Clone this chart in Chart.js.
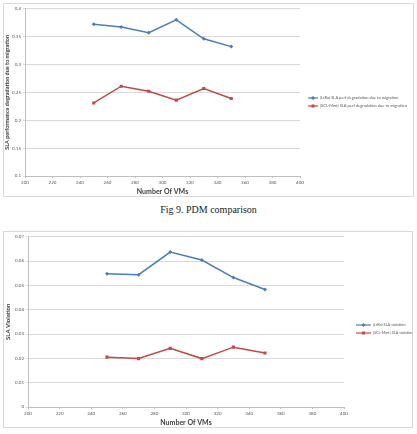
<!DOCTYPE html>
<html>
<head>
<meta charset="utf-8">
<script src="https://cdn.jsdelivr.net/npm/chart.js@4"></script>
<style>
  html, body { margin: 0; padding: 0; background: #fff; width: 417px; height: 434px; overflow: hidden; }
  .box { position: absolute; border: 1px solid #d9d9d9; background: #fff; }
  #box1 { left: 3px; top: 3px; width: 409px; height: 192px; }
  #box2 { left: 3px; top: 231px; width: 408px; height: 195px; }
  canvas { display: block; }
  #cap { position: absolute; left: 0; width: 417px; top: 204px; text-align: center;
         font-family: "Liberation Serif", "DejaVu Serif", serif; font-size: 10px; color: #222; }
</style>
</head>
<body>
<div class="box" id="box1"><canvas id="c1" width="409" height="192"></canvas></div>
<div id="cap">Fig 9. PDM comparison</div>
<div class="box" id="box2"><canvas id="c2" width="408" height="195"></canvas></div>
<script>
// ---- data ----
const vms = [250, 270, 290, 310, 330, 350];
const pdmLrRo = [0.372, 0.367, 0.357, 0.380, 0.346, 0.332];
const pdmScl = [0.231, 0.261, 0.252, 0.236, 0.257, 0.239];
const slaLrRo = [0.0548, 0.0544, 0.0637, 0.0604, 0.0532, 0.0483];
const slaScl = [0.0205, 0.0199, 0.0241, 0.0199, 0.0246, 0.0222];
const pdmLabels = ["(LrRo) SLA perf degradation due to migration", "(SCL-Mmt) SLA perf degradation due to migration"];
const slaLabels = ["(LrRo) SLA violation", "(SCL-Mmt) SLA violation"];
const xTitle = "Number Of VMs";
const pdmYTitle = "SLA performance degradation due to migration";
const slaYTitle = "SLA Violation";

const BLUE = '#4A7EBB';
const RED = '#BE4B48';
const FONT = 'Lato, "Liberation Sans", sans-serif';

function pts(xs, ys) { return xs.map((x, i) => ({ x: x, y: ys[i] })); }

function legendPlugin(lx, ly, gap, fs, len) {
  return {
    id: 'customLegend',
    afterDraw(chart) {
      const ctx = chart.ctx;
      ctx.save();
      chart.data.datasets.forEach((ds, i) => {
        const y = ly + i * gap;
        const mx = lx + len / 2;
        ctx.strokeStyle = ds.borderColor;
        ctx.lineWidth = 1.2;
        ctx.beginPath(); ctx.moveTo(lx, y); ctx.lineTo(lx + len, y); ctx.stroke();
        ctx.fillStyle = ds.borderColor;
        if (ds.pointStyle === 'rect') ctx.fillRect(mx - 1.5, y - 1.5, 3, 3);
        else { ctx.beginPath(); ctx.moveTo(mx, y - 2); ctx.lineTo(mx + 2, y); ctx.lineTo(mx, y + 2); ctx.lineTo(mx - 2, y); ctx.closePath(); ctx.fill(); }
        ctx.fillStyle = '#595959';
        ctx.font = fs + 'px ' + FONT;
        ctx.textBaseline = 'middle';
        ctx.fillText(ds.label, lx + len + 2, y);
      });
      ctx.restore();
    }
  };
}

function makeChart(id, labels, s1, s2, yMin, yMax, yStep, yTitle, yTitleSize, pad, yW, xH, leg, tickFmt) {
  return new Chart(document.getElementById(id), {
    type: 'line',
    data: {
      datasets: [
        { label: labels[0], data: pts(vms, s1), borderColor: BLUE, backgroundColor: BLUE, borderWidth: 1.5,
          pointStyle: 'rectRot', pointRadius: 2, pointBorderWidth: 0, tension: 0 },
        { label: labels[1], data: pts(vms, s2), borderColor: RED, backgroundColor: RED, borderWidth: 1.5,
          pointStyle: 'rect', pointRadius: 2.2, pointBorderWidth: 0, tension: 0 }
      ]
    },
    options: {
      responsive: false, animation: false, devicePixelRatio: 1,
      layout: { padding: pad },
      plugins: { legend: { display: false }, tooltip: { enabled: false } },
      scales: {
        x: {
          type: 'linear', min: 200, max: 400,
          ticks: { stepSize: 20, font: { size: 4.5, family: FONT }, color: '#595959', padding: 2, maxRotation: 0 },
          grid: { display: true, drawOnChartArea: false, tickLength: 2, color: '#bfbfbf' },
          border: { color: '#bfbfbf' },
          title: { display: true, text: xTitle, font: { size: 7, weight: 'bold', family: FONT }, color: '#404040', padding: { top: 0, bottom: 0 } },
          afterFit(s) { s.height = xH; }
        },
        y: {
          min: yMin, max: yMax,
          ticks: { stepSize: yStep, font: { size: 4.5, family: FONT }, color: '#595959', padding: 2, callback: tickFmt },
          grid: { color: '#d9d9d9', tickLength: 2 },
          border: { color: '#bfbfbf' },
          title: { display: true, text: yTitle, font: { size: yTitleSize, weight: 'bold', family: FONT }, color: '#404040', padding: 0 },
          afterFit(s) { s.width = yW; }
        }
      }
    },
    plugins: [legendPlugin(leg[0], leg[1], leg[2], leg[3], leg[4])]
  });
}

makeChart('c1', pdmLabels, pdmLrRo, pdmScl, 0.1, 0.4, 0.05, pdmYTitle, 5.5,
  { top: 3, right: 113, bottom: 0, left: 0 }, 21, 20, [304, 94, 8, 4, 10],
  v => (Math.round(v * 100) / 100).toString());
makeChart('c2', slaLabels, slaLrRo, slaScl, 0, 0.07, 0.01, slaYTitle, 6,
  { top: 4, right: 68, bottom: 0, left: 0 }, 24, 20, [352, 93, 8, 3.8, 15],
  v => (Math.round(v * 100) / 100).toString());
</script>
</body>
</html>
